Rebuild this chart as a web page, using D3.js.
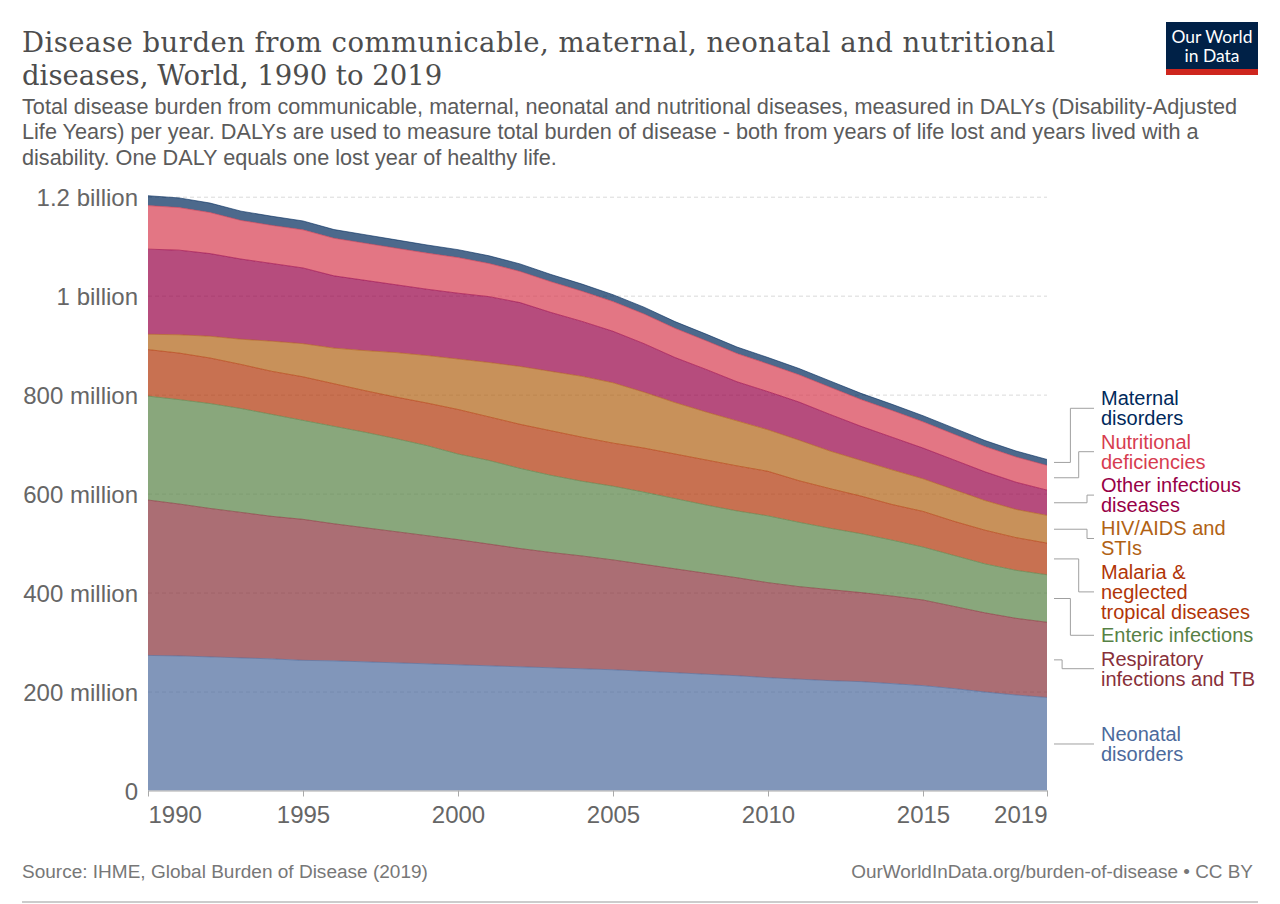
<!DOCTYPE html>
<html><head><meta charset="utf-8">
<script src="https://cdn.jsdelivr.net/npm/d3@7"></script>
<style>body{margin:0;background:#fff} svg{display:block}</style>
</head><body>
<svg id="c" width="1280" height="904"></svg>
<script>
// ---------------- DATA (values in millions of DALYs) ----------------
const years = [1990,1991,1992,1993,1994,1995,1996,1997,1998,1999,2000,2001,2002,2003,2004,2005,2006,2007,2008,2009,2010,2011,2012,2013,2014,2015,2016,2017,2018,2019];
const neonatal    = [273,272,270,268,266,263,262,260,258,256,254,252,250,248,246,244,241,238,235,232,228,225,222,220,216,212,206,199,193,188];
const respiratory = [314,307,300,294,288,285,277,271,265,259,253,246,239,233,228,222,216,210,204,198,192,187,184,180,177,173,166,160,155,152];
const enteric     = [210,211,212,210,206,200,197,193,188,182,173,169,162,156,151,149,146,142,138,135,135,130,124,119,113,107,103,99,97,96];
const malaria     = [94,94,92,89,87,88,86,84,84,86,90,88,89,90,89,87,89,90,91,91,90,84,80,76,72,72,69,68,66,64];
const hivSti      = [31,37,44,51,61,67,72,81,90,96,102,110,117,120,123,122,113,104,97,91,84,82,76,72,70,66,64,60,57,56];
const otherInf    = [172,171,167,162,157,153,146,142,137,134,133,133,129,119,111,104,98,91,86,79,77,77,74,69,66,62,60,58,55,51];
const nutritional = [88,86,83,78,77,77,76,75,74,73,72,67,63,62,61,60,60,59,58,57,56,55,55,54,54,53,52,51,51,50];
const maternal    = [20,19.6,19.2,18.8,18.4,18,17.6,17.2,16.8,16.4,16,15.6,15.2,14.8,14.4,14,13.8,13.6,13.4,13.2,13,12.8,12.7,12.6,12.5,12.4,12.3,12.2,12.1,12];

const seriesNames  = ["Neonatal disorders","Respiratory infections and TB","Enteric infections","Malaria & neglected tropical diseases","HIV/AIDS and STIs","Other infectious diseases","Nutritional deficiencies","Maternal disorders"];
const seriesValues = [neonatal, respiratory, enteric, malaria, hivSti, otherInf, nutritional, maternal];
const seriesColors = ["#4C6A9C","#883039","#578145","#B13507","#B16214","#970046","#D73C50","#00295B"];
const labelLines   = [["Neonatal","disorders"],["Respiratory","infections and TB"],["Enteric infections"],["Malaria &","neglected","tropical diseases"],["HIV/AIDS and","STIs"],["Other infectious","diseases"],["Nutritional","deficiencies"],["Maternal","disorders"]];

const yTicks      = [0, 2e8, 4e8, 6e8, 8e8, 1e9, 1.2e9];
const yTickLabels = ["0","200 million","400 million","600 million","800 million","1 billion","1.2 billion"];
const xTicks      = [1990,1995,2000,2005,2010,2015,2019];

const titleLines    = ["Disease burden from communicable, maternal, neonatal and nutritional","diseases, World, 1990 to 2019"];
const subtitleLines = ["Total disease burden from communicable, maternal, neonatal and nutritional diseases, measured in DALYs (Disability-Adjusted",
  "Life Years) per year. DALYs are used to measure total burden of disease - both from years of life lost and years lived with a",
  "disability. One DALY equals one lost year of healthy life."];
const sourceText  = "Source: IHME, Global Burden of Disease (2019)";
const licenseText = "OurWorldInData.org/burden-of-disease • CC BY";

// ---------------- LAYOUT ----------------
(function () {
const svg = d3.select("#c");
const SANS = "'Liberation Sans', Arial, Helvetica, sans-serif";
const SERIF = "'DejaVu Serif', Georgia, serif";
const pL = 148, pR = 1047, pT = 196.7, pB = 790.5;

function fit(sel, target, maxSize) {
  const fs = parseFloat(sel.attr("font-size"));
  const w = sel.node().getComputedTextLength();
  let nf = fs * target / w;
  if (maxSize && nf > maxSize) {
    nf = maxSize;
    sel.attr("font-size", nf).attr("textLength", target).attr("lengthAdjust", "spacing");
  } else sel.attr("font-size", nf);
  return nf;
}

// Title
const t1 = svg.append("text").attr("x", 22).attr("y", 52).attr("font-family", SERIF).attr("font-size", 28).attr("fill", "#4d4d4d").text(titleLines[0]);
const tfs = fit(t1, 1033, 27.5);
svg.append("text").attr("x", 22).attr("y", 84.5).attr("font-family", SERIF).attr("font-size", tfs).attr("fill", "#4d4d4d").text(titleLines[1]);

// Subtitle
const s1 = svg.append("text").attr("x", 22).attr("y", 114).attr("font-family", SANS).attr("font-size", 19).attr("fill", "#5b5b5b").text(subtitleLines[0]);
const sfs = fit(s1, 1216);
subtitleLines.slice(1).forEach((l, i) => {
  svg.append("text").attr("x", 22).attr("y", 114 + 25.3 * (i + 1)).attr("font-family", SANS).attr("font-size", sfs).attr("fill", "#5b5b5b").text(l);
});

// Logo
const logo = svg.append("g");
logo.append("rect").attr("x", 1166).attr("y", 22).attr("width", 92).attr("height", 53).attr("fill", "#002147");
logo.append("rect").attr("x", 1166).attr("y", 69).attr("width", 92).attr("height", 6).attr("fill", "#ce261e");
const lg1 = logo.append("text").attr("x", 1212).attr("y", 43).attr("text-anchor", "middle").attr("font-family", "Lato, 'Open Sans', sans-serif").attr("font-size", 16).attr("fill", "#fff").text("Our World");
const lfs = fit(lg1, 81);
logo.append("text").attr("x", 1212).attr("y", 62).attr("text-anchor", "middle").attr("font-family", "Lato, 'Open Sans', sans-serif").attr("font-size", lfs).attr("fill", "#fff").text("in Data");

// Scales
const x = d3.scaleLinear().domain([1990, 2019]).range([pL, pR]);
const y = d3.scaleLinear().domain([0, 1.2e9]).range([pB, pT]);

// Y axis with dashed grid
const yAxis = svg.append("g").attr("transform", `translate(${pL},0)`)
  .call(d3.axisLeft(y).tickValues(yTicks).tickFormat((d, i) => yTickLabels[i]).tickSize(-(pR - pL)).tickPadding(10));
yAxis.select(".domain").remove();
yAxis.selectAll(".tick line").attr("stroke", "#dadada").attr("stroke-dasharray", "4,3").attr("stroke-width", 1)
  .filter(d => d === 0).remove();
yAxis.selectAll(".tick text").attr("font-family", SANS).attr("font-size", 24).attr("fill", "#666").attr("dy", "0.36em");

// Stack
const table = years.map((yr, i) => {
  const row = { year: yr };
  seriesNames.forEach((n, k) => row[n] = seriesValues[k][i] * 1e6);
  return row;
});
const stacked = d3.stack().keys(seriesNames)(table);

const area = d3.area().x(d => x(d.data.year)).y0(d => y(d[0])).y1(d => y(d[1]));
const topLine = d3.line().x(d => x(d.data.year)).y(d => y(d[1]));

const gA = svg.append("g");
stacked.forEach((s, k) => {
  gA.append("path").attr("d", area(s)).attr("fill", seriesColors[k]).attr("fill-opacity", 0.7).attr("stroke", "none");
});
stacked.forEach((s, k) => {
  gA.append("path").attr("d", topLine(s)).attr("fill", "none").attr("stroke", seriesColors[k]).attr("stroke-width", 0.8).attr("stroke-opacity", 0.75);
});

// X axis
const xAxis = svg.append("g").attr("transform", `translate(0,${pB})`)
  .call(d3.axisBottom(x).tickValues(xTicks).tickFormat(d3.format("d")).tickSize(6).tickSizeOuter(0).tickPadding(9));
xAxis.select(".domain").attr("stroke", "#aaa");
xAxis.selectAll(".tick line").attr("stroke", "#aaa");
xAxis.selectAll(".tick text").attr("font-family", SANS).attr("font-size", 24).attr("fill", "#666");
xAxis.selectAll(".tick text").filter(d => d === xTicks[0]).attr("text-anchor", "start");
xAxis.selectAll(".tick text").filter(d => d === xTicks[xTicks.length - 1]).attr("text-anchor", "end");

// Right-hand labels with collision-resolving clusters
const LH = 20, GAP = 3.4;
const last = years.length - 1;
let items = stacked.map((s, k) => ({
  k, want: y((s[last][0] + s[last][1]) / 2), h: labelLines[k].length * LH
}));
items.sort((a, b) => a.want - b.want);
let clusters = items.map(it => ({ items: [it] }));
function layoutCluster(c) {
  let off = 0;
  c.items.forEach(it => { it.off = off + it.h / 2; off += it.h + GAP; });
  c.height = off - GAP;
  c.y0 = d3.mean(c.items, it => it.want - it.off);
}
clusters.forEach(layoutCluster);
let changed = true;
while (changed) {
  changed = false;
  for (let i = 0; i < clusters.length - 1; i++) {
    const a = clusters[i], b = clusters[i + 1];
    if (a.y0 + a.height + GAP > b.y0) {
      a.items = a.items.concat(b.items);
      clusters.splice(i + 1, 1);
      layoutCluster(a);
      changed = true;
      break;
    }
  }
}
clusters.forEach(c => c.items.forEach(it => { it.cy = c.y0 + it.off; it.ty = c.y0 + it.off - it.h / 2; }));

// elbow positions: step outward from the split between raised and lowered labels
const raised = items.filter(it => it.cy < it.want - 0.5).sort((a, b) => b.cy - a.cy);
const lowered = items.filter(it => it.cy > it.want + 0.5).sort((a, b) => a.cy - b.cy);
const elbowBase = 1087, elbowStep = 8.3;
raised.forEach((it, i) => it.elbow = elbowBase - i * elbowStep);
lowered.forEach((it, i) => it.elbow = elbowBase - i * elbowStep);

const lineStart = 1054, lineEnd = 1094, textX = 1101;
const gL = svg.append("g");
items.forEach(it => {
  const path = it.elbow === undefined
    ? `M${lineStart},${it.want}H${lineEnd}`
    : `M${lineStart},${it.want}H${it.elbow}V${it.cy}H${lineEnd}`;
  gL.append("path").attr("d", path).attr("fill", "none").attr("stroke", "#a0a0a0").attr("stroke-width", 1);
  const t = gL.append("text").attr("font-family", SANS).attr("font-size", 20).attr("fill", seriesColors[it.k]);
  labelLines[it.k].forEach((ln, j) => {
    t.append("tspan").attr("x", textX).attr("y", it.ty + 17 + j * LH).text(ln);
  });
});

// Footer
const f1 = svg.append("text").attr("x", 22).attr("y", 878).attr("font-family", SANS).attr("font-size", 17).attr("fill", "#777").text(sourceText);
fit(f1, 406);
const f2 = svg.append("text").attr("x", 1253).attr("y", 878).attr("text-anchor", "end").attr("font-family", SANS).attr("font-size", 17).attr("fill", "#777").text(licenseText);
fit(f2, 402);
svg.append("line").attr("x1", 22).attr("x2", 1258).attr("y1", 902).attr("y2", 902).attr("stroke", "#999").attr("stroke-width", 1);
})();
</script>
</body></html>
